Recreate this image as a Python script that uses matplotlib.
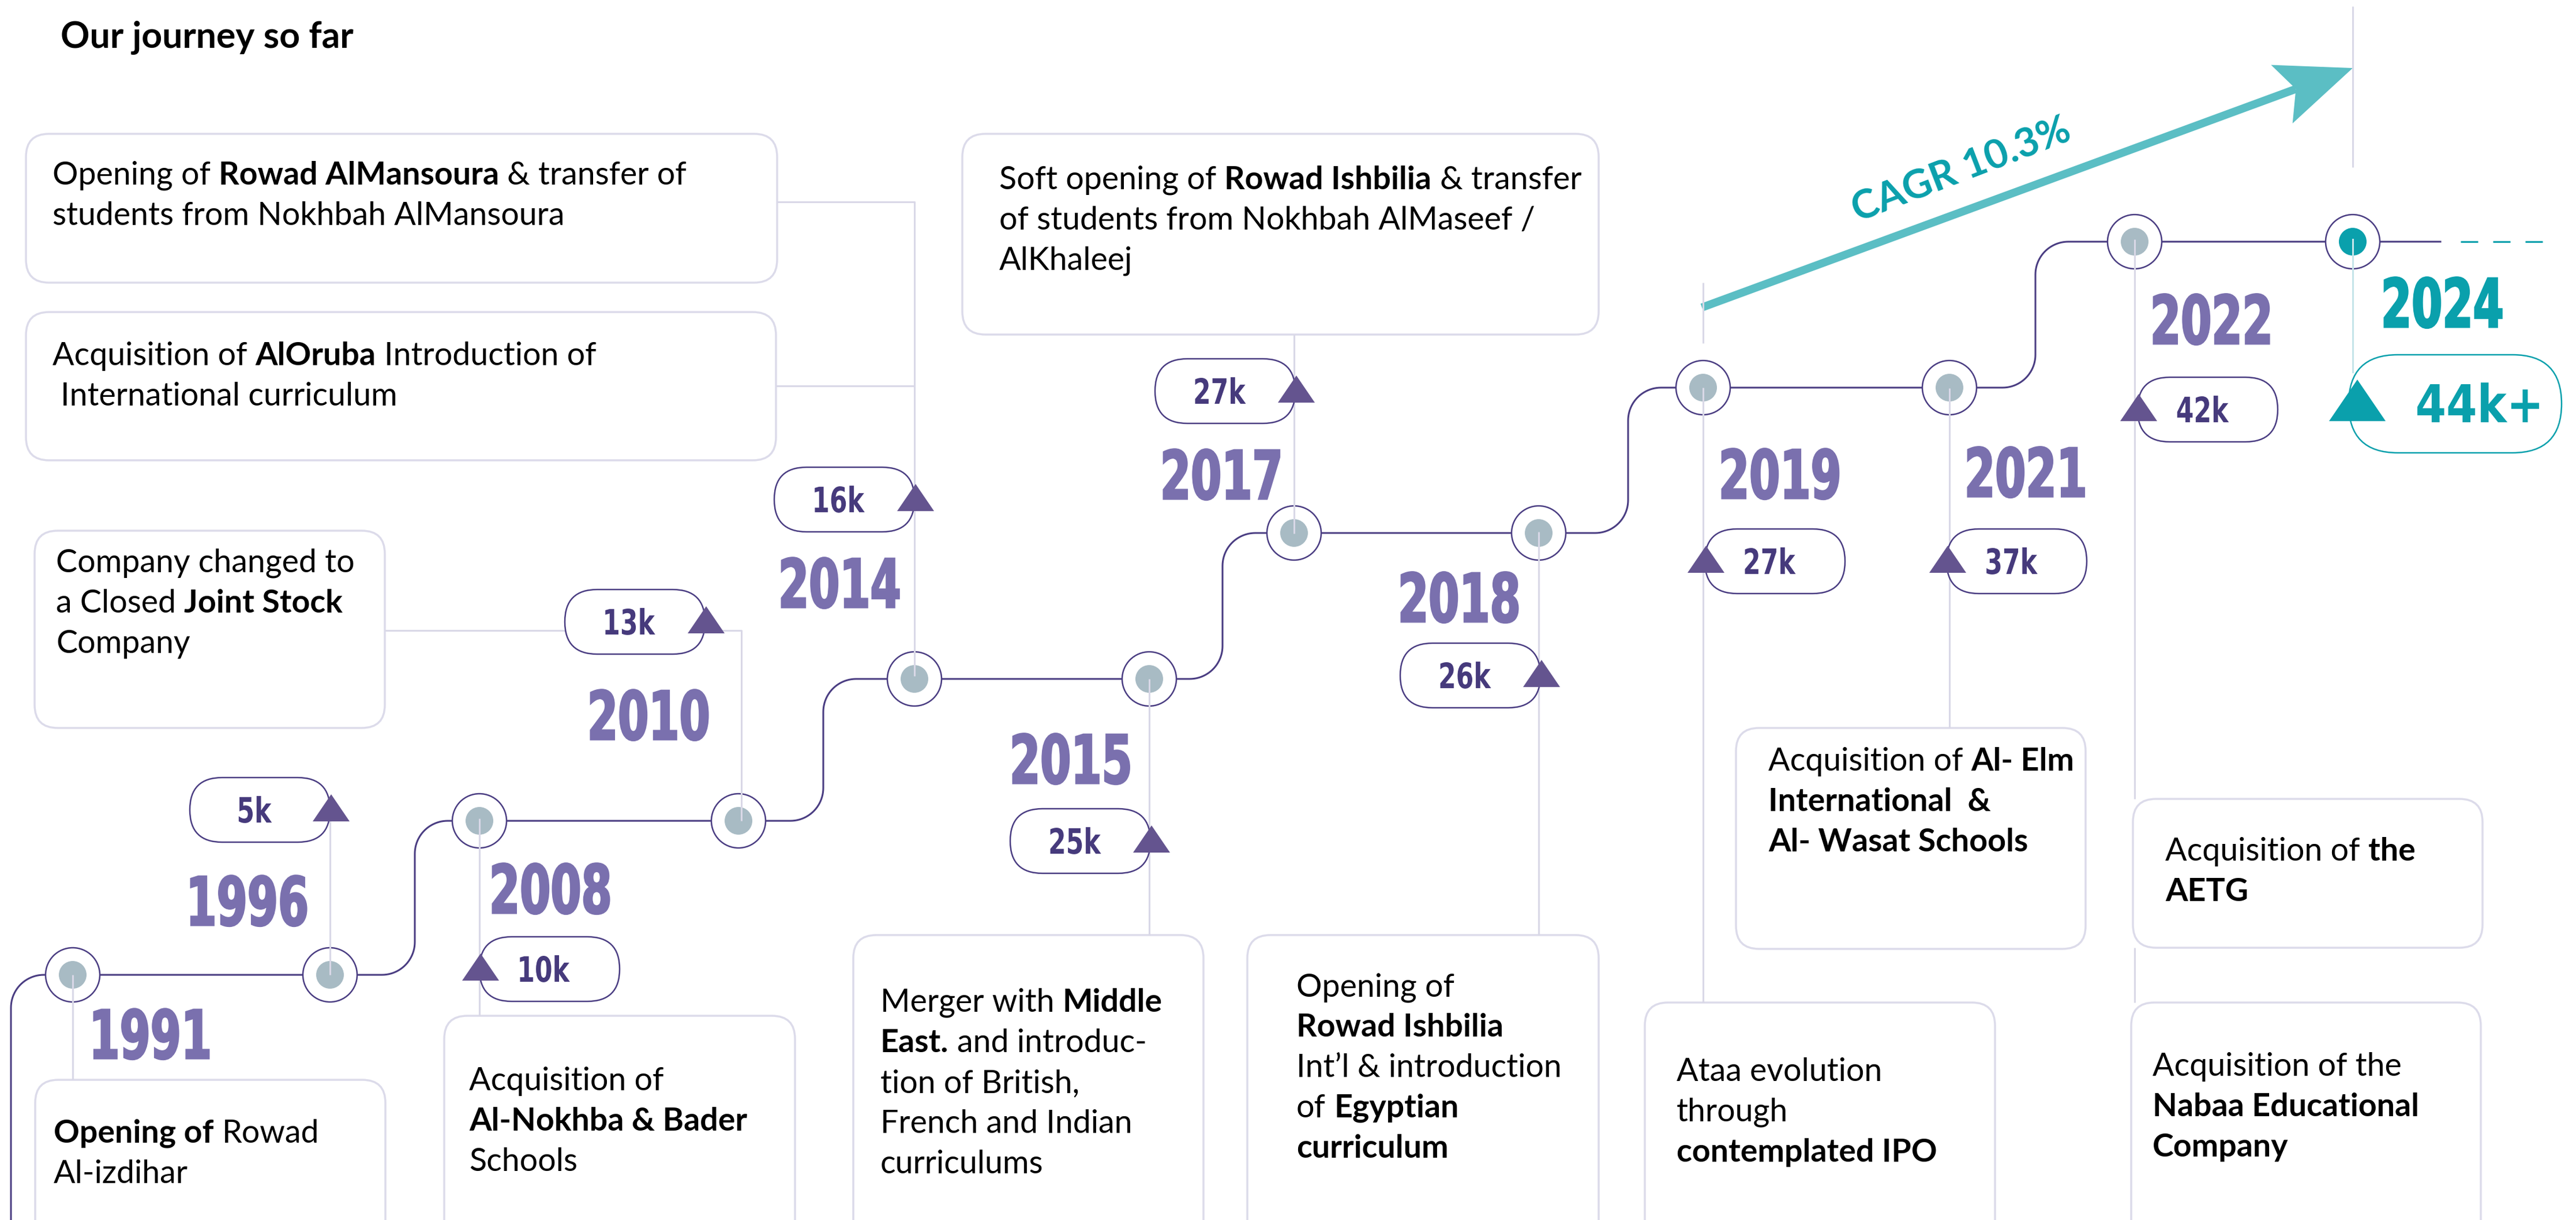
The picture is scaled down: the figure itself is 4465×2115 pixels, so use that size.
import matplotlib
matplotlib.use("Agg")
import numpy as np
import matplotlib.pyplot as plt
from matplotlib.patches import FancyBboxPatch, Circle, Polygon, PathPatch
from matplotlib.textpath import TextPath
from matplotlib.font_manager import FontProperties
from matplotlib.transforms import Affine2D

# ---- data ----
years = ["1991", "1996", "2008", "2010", "2014", "2015",
         "2017", "2018", "2019", "2021", "2022", "2024"]
students = ["", "5k", "10k", "13k", "16k", "25k",
            "27k", "26k", "27k", "37k", "42k", "44k+"]

milestone_years = ["2014", "2014", "2010", "2017", "1991", "2008",
                   "2015", "2018", "2019", "2021", "2022", "2022"]
milestone_texts = [
    "Opening of **Rowad AlMansoura** & transfer of\nstudents from Nokhbah AlMansoura",
    "Acquisition of **AlOruba** Introduction of\n International curriculum",
    "Company changed to\na Closed **Joint Stock**\nCompany",
    "Soft opening of **Rowad Ishbilia** & transfer\nof students from Nokhbah AlMaseef /\nAlKhaleej",
    "**Opening of** Rowad\nAl-izdihar",
    "Acquisition of\n**Al-Nokhba & Bader**\nSchools",
    "Merger with **Middle**\n**East.** and introduc-\ntion of British,\nFrench and Indian\ncurriculums",
    "Opening of\n**Rowad Ishbilia**\nInt\u2019l & introduction\nof **Egyptian**\n**curriculum**",
    "Ataa evolution\nthrough\n**contemplated IPO**",
    "Acquisition of **Al- Elm**\n**International  &**\n**Al- Wasat Schools**",
    "Acquisition of **the**\n**AETG**",
    "Acquisition of the\n**Nabaa Educational**\n**Company**",
]

title = "Our journey so far"
cagr_label = "CAGR 10.3%"

# ---- layout (pixels) ----
W, H = 4465, 2115
node_x = [126, 572, 831, 1280, 1585, 1992, 2243, 2667, 2952, 3379, 3700, 4078]
node_level = [0, 0, 1, 1, 2, 2, 3, 3, 4, 4, 5, 5]
level_y = [1690, 1423, 1177, 924, 672, 419]
step_x = [719, 1427, 2119, 2822, 3528]

year_pos = [(163, 1835), (331, 1604), (854, 1583), (1024, 1282), (1355, 1053),
            (1756, 1358), (2017, 865), (2429, 1078), (2985, 864), (3411, 861),
            (3733, 596), (4133, 567)]

pill_anchor = [None, 572, 831, 1222, 1585, 1994, 2245, 2670, 2955, 3374, 3705, 4080]
pill_side = [None, "r", "l", "r", "r", "r", "r", "r", "l", "l", "l", "l"]
pill_cy = [None, 1404, 1680, 1078, 866, 1458, 678, 1171, 973, 973, 710, 700]

boxes = [(45, 232, 1347, 490), (45, 541, 1345, 798), (60, 920, 667, 1262),
         (1668, 232, 2771, 580), (61, 1872, 668, 2220), (770, 1761, 1378, 2220),
         (1479, 1621, 2086, 2220), (2162, 1621, 2771, 2220), (2851, 1738, 3458, 2220),
         (3009, 1262, 3615, 1645), (3697, 1385, 4303, 1643), (3694, 1738, 4300, 2220)]
text_origin = [(91, 320), (91, 633), (97, 992), (1732, 328), (93, 1981), (813, 1890),
               (1526, 1754), (2247, 1727), (2906, 1874), (3065, 1336), (3753, 1492),
               (3731, 1865)]

connectors = [
    [(126, 1690), (126, 1872)],
    [(572, 1690), (572, 1385)],
    [(831, 1419), (831, 1761)],
    [(667, 1093), (1285, 1093), (1285, 1423)],
    [(1347, 350), (1585, 350), (1585, 1172)],
    [(1345, 669), (1585, 669)],
    [(1992, 1177), (1992, 1621)],
    [(2243, 580), (2243, 925)],
    [(2667, 922), (2667, 1621)],
    [(2952, 490), (2952, 595)],
    [(2952, 672), (2952, 1738)],
    [(3379, 673), (3379, 1262)],
    [(3700, 415), (3700, 1385)],
    [(3700, 1643), (3700, 1738)],
    [(4078, 11), (4078, 290)],
]

PURPLE = "#4a3d82"
YEAR_PURPLE = "#7a70ae"
PILL_TXT = "#463a7c"
TRI = "#64548f"
DOT = "#a8bbc4"
LIGHT = "#d9d8e7"
TEAL = "#0aa0ac"
TEAL_ARROW = "#5bbec4"
BODY_FONT = "Lato"
BODY_SIZE = 40

fig = plt.figure(figsize=(W / 100, H / 100), dpi=100)
ax = fig.add_axes([0, 0, 1, 1])
ax.set_xlim(0, W)
ax.set_ylim(H, 0)
ax.axis("off")
renderer = fig.canvas.get_renderer()


def glyphs(s):
    return TextPath((0, 0), s, size=100, prop=FontProperties(family="DejaVu Sans", weight="bold"))


def squeezed(s, x, y, kx, ky, color, ha="left", z=6, stroke=0):
    tp = glyphs(s)
    bb = tp.get_extents()
    if ha == "center":
        ox = x - (bb.x0 + bb.width / 2) * kx
    else:
        ox = x - bb.x0 * kx
    tr = Affine2D().scale(kx, -ky).translate(ox, y)
    ax.add_patch(PathPatch(tr.transform_path(tp), fc=color,
                           ec=color if stroke else "none", lw=stroke, zorder=z))


def text_w(s, bold):
    t = ax.text(0, 0, s, fontsize=BODY_SIZE, family=BODY_FONT,
                weight="bold" if bold else "normal")
    w = t.get_window_extent(renderer).width
    t.remove()
    return w


space_w = {b: text_w("a a", b) - text_w("aa", b) for b in (False, True)}


def rich_line(x, y, line):
    cur = x
    for i, seg in enumerate(line.split("**")):
        bold = i % 2 == 1
        lead = len(seg) - len(seg.lstrip(" "))
        trail = len(seg) - len(seg.rstrip(" "))
        cur += lead * space_w[bold]
        core = seg.strip(" ")
        if core:
            t = ax.text(cur, y, core, fontsize=BODY_SIZE, family=BODY_FONT,
                        weight="bold" if bold else "normal", color="black",
                        va="baseline", ha="left", zorder=7)
            cur += t.get_window_extent(renderer).width
        if core or not lead:
            cur += trail * space_w[bold]


def rounded(pts, r):
    xs, ys = [pts[0][0]], [pts[0][1]]
    th = np.linspace(0, np.pi / 2, 24)
    for i in range(1, len(pts) - 1):
        p0, p1, p2 = (np.array(p, float) for p in pts[i - 1:i + 2])
        d1 = (p1 - p0) / np.linalg.norm(p1 - p0)
        d2 = (p2 - p1) / np.linalg.norm(p2 - p1)
        c = p1 - d1 * r + d2 * r
        arc = c[None, :] - np.outer(np.cos(th), d2) * r + np.outer(np.sin(th), d1) * r
        xs += list(arc[:, 0])
        ys += list(arc[:, 1])
    xs.append(pts[-1][0])
    ys.append(pts[-1][1])
    return xs, ys


# title
ax.text(105, 82, title, fontsize=45, family=BODY_FONT, weight="bold",
        color="black", va="baseline", ha="left")

# light connectors (drawn over the node dots, under the pills)
for seg in connectors:
    xs, ys = zip(*seg)
    ax.plot(xs, ys, color=LIGHT, lw=2.2, zorder=5.2, solid_capstyle="butt")
ax.plot([4078, 4078], [415, 645], color="#c6e5e9", lw=2.2, zorder=5.2)

# description boxes
for (x0, y0, x1, y1), (tx, ty), txt in zip(boxes, text_origin, milestone_texts):
    ax.add_patch(FancyBboxPatch((x0, y0), x1 - x0, y1 - y0,
                                boxstyle="round,pad=0,rounding_size=40",
                                fc="white", ec="#dcdbea", lw=2.5, zorder=2))
    for k, line in enumerate(txt.split("\n")):
        rich_line(tx, ty + 70 * k, line)

# stepped timeline path
pts = [(19, H + 100), (19, level_y[0])]
for k, sx in enumerate(step_x):
    pts += [(sx, level_y[k]), (sx, level_y[k + 1])]
pts.append((4230, level_y[-1]))
px, py = rounded(pts, 57)
ax.plot(px, py, color=PURPLE, lw=2.2, zorder=3)
for s0 in np.arange(4265, 4400, 56):
    ax.plot([s0, s0 + 30], [level_y[-1]] * 2, color=TEAL, lw=2.2, zorder=3,
            solid_capstyle="butt")

# nodes
for i, (x, lv) in enumerate(zip(node_x, node_level)):
    y = level_y[lv]
    ax.add_patch(Circle((x, y), 47, fc="white", ec=PURPLE, lw=1.8, zorder=4))
    ax.add_patch(Circle((x, y), 24, fc=TEAL if i == len(years) - 1 else DOT,
                        ec="none", zorder=5))

# year labels
ref = glyphs("2018").get_extents()
ky_year = 88 / ref.height
kx_year = 202 / ref.width
for i, (yr, (x, y)) in enumerate(zip(years, year_pos)):
    col = TEAL if i == len(years) - 1 else YEAR_PURPLE
    squeezed(yr, x, y, kx_year, ky_year, col, stroke=2.2)

# student pills
ky_pill = 45 / glyphs("27").get_extents().height
kx_pill = 88 / glyphs("27k").get_extents().width
ky_big = 66 / glyphs("44").get_extents().height
kx_big = 211 / glyphs("44k+").get_extents().width
for i, lab in enumerate(students):
    if not lab:
        continue
    a, cy, side = pill_anchor[i], pill_cy[i], pill_side[i]
    big = i == len(students) - 1
    col = TEAL if big else PURPLE
    if big:
        w, h = 369, 170
        x0 = a - 9
    else:
        w, h = 243, 112
        x0 = a - w if side == "r" else a
    ax.add_patch(FancyBboxPatch((x0, cy - h / 2), w, h,
                                boxstyle="round,pad=0,rounding_size=%d" % (h // 2),
                                fc="white", ec=col, lw=1.8, zorder=5.5))
    tw, th_ = (98, 72) if big else (64, 47)
    tb = cy + (30 if big else 20)
    tx = a + (6 if big else 2)
    ax.add_patch(Polygon([(tx - tw / 2, tb), (tx + tw / 2, tb), (tx, tb - th_)],
                         closed=True, fc=TEAL if big else TRI, ec="none", zorder=6))
    if big:
        squeezed(lab, x0 + w / 2 + 40, cy + 32, kx_big, ky_big, TEAL, ha="center")
    else:
        squeezed(lab, x0 + w / 2 - 8, cy + 22, kx_pill, ky_pill, PILL_TXT, ha="center")

# CAGR arrow
S = np.array([2950.0, 533.0])
T = np.array([4078.0, 118.0])
u = (T - S) / np.linalg.norm(T - S)
n = np.array([-u[1], u[0]])
notch = T - u * 105
ax.plot([S[0], notch[0]], [S[1], notch[1]], color=TEAL_ARROW, lw=10,
        solid_capstyle="butt", zorder=3)
head = [T, T - u * 131 + n * 54, notch, T - u * 131 - n * 54]
ax.add_patch(Polygon(head, closed=True, fc=TEAL_ARROW, ec="none", zorder=3))
ax.text(3400, 296, cagr_label, rotation=21, rotation_mode="anchor", ha="center",
        va="center", fontsize=50, family=BODY_FONT, weight="bold", color=TEAL)

fig.savefig("out.png", dpi=100, facecolor="white")
